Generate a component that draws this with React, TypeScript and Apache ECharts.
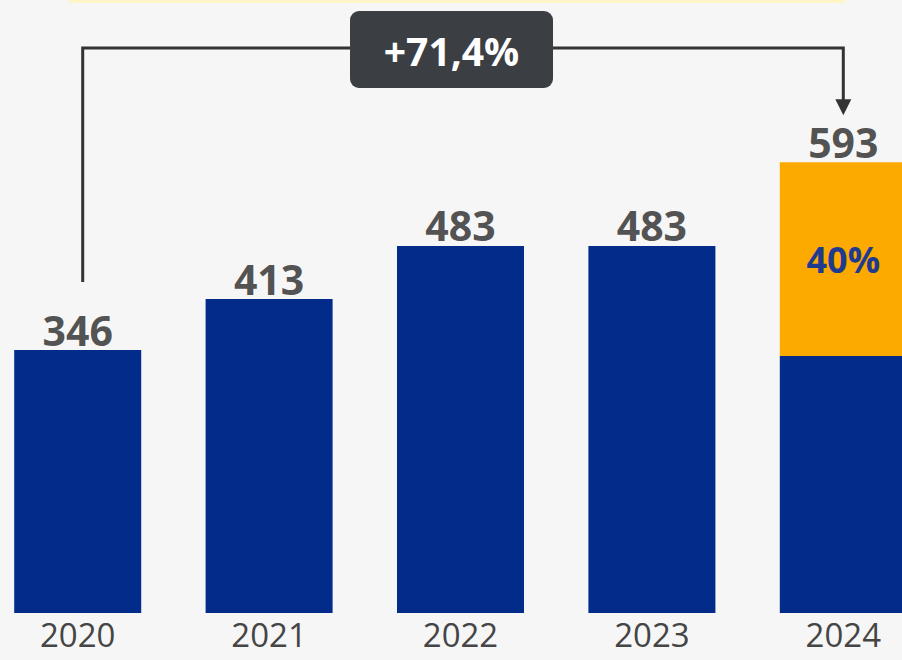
import React, { useEffect, useRef } from "react";
import * as echarts from "echarts";

const years = ["2020", "2021", "2022", "2023", "2024"];
const baseValues = [346, 413, 483, 483, 338];
const highlightValues: (number | string)[] = ["-", "-", "-", "-", 255];
const totals = [346, 413, 483, 483, 593];
const highlightLabel = "40%";
const growthLabel = "+71,4%";

const BLUE = "#022b8a";
const ORANGE = "#fdaa00";
const FONT = "'Open Sans', 'DejaVu Sans', sans-serif";
const OFFSET = 18;

export default function App() {
  const ref = useRef<HTMLDivElement>(null);
  useEffect(() => {
    if (!ref.current) return;
    const chart = echarts.init(ref.current, undefined, { renderer: "svg" });
    chart.setOption({
      animation: false,
      backgroundColor: "#f6f6f6",
      grid: { left: 0, right: 0, top: 81, bottom: 47 },
      xAxis: {
        type: "category",
        data: years,
        axisLine: { show: false },
        axisTick: { show: false },
        axisLabel: {
          color: "#454545",
          fontFamily: FONT,
          fontSize: 33,
          lineHeight: 33,
          margin: 5,
        },
      },
      yAxis: {
        type: "value",
        min: 0,
        max: 700,
        show: false,
        splitLine: { show: false },
      },
      series: [
        {
          type: "bar",
          stack: "t",
          data: baseValues,
          barWidth: 127,
          itemStyle: { color: BLUE },
        },
        {
          type: "bar",
          stack: "t",
          data: highlightValues,
          barWidth: 127,
          itemStyle: { color: ORANGE },
          label: {
            show: true,
            position: "inside",
            formatter: () => highlightLabel,
            color: "#1f3a8f",
            fontFamily: FONT,
            fontWeight: 700,
            fontSize: 36,
          },
        },
        {
          type: "scatter",
          data: totals,
          symbolSize: 0,
          silent: true,
          label: {
            show: true,
            position: "top",
            distance: 0,
            color: "#262626",
            fontFamily: FONT,
            fontWeight: 700,
            fontSize: 41,
          },
        },
      ],
    });

    const p0 = chart.convertToPixel({ xAxisIndex: 0, yAxisIndex: 0 }, [0, totals[0]]) as number[];
    const p4 = chart.convertToPixel({ xAxisIndex: 0, yAxisIndex: 0 }, [4, totals[4]]) as number[];
    const lineY = 48;
    const xL = p0[0] + 5;
    const xR = p4[0];
    const leftBottom = p0[1] - 68;
    const arrowTip = p4[1] - 47;
    const lineStyle = { stroke: "#333333", lineWidth: 3 };
    chart.setOption({
      graphic: [
        { type: "rect", shape: { x: 69 + OFFSET, y: 0, width: 776, height: 3 }, style: { fill: "#fff4c6" }, silent: true },
        { type: "polyline", shape: { points: [[xL, leftBottom], [xL, lineY], [xR, lineY], [xR, arrowTip - 14]] }, style: { ...lineStyle, fill: null }, silent: true },
        { type: "polygon", shape: { points: [[xR - 8, arrowTip - 16], [xR + 8, arrowTip - 16], [xR, arrowTip]] }, style: { fill: "#333333" }, silent: true },
        { type: "rect", shape: { x: 350 + OFFSET, y: 11, width: 203, height: 77, r: 9 }, style: { fill: "#3b3e43" }, silent: true },
        {
          type: "text",
          x: 451.5 + OFFSET,
          y: 50,
          style: {
            text: growthLabel,
            fill: "#ffffff",
            font: `700 39px ${FONT}`,
            align: "center",
            verticalAlign: "middle",
          },
          silent: true,
        },
      ],
    });
    return () => chart.dispose();
  }, []);
  return (
    <div style={{ position: "fixed", left: 0, top: 0, width: 902, height: 660, overflow: "hidden" }}>
      <div
        ref={ref}
        style={{ position: "absolute", left: -OFFSET, top: 0, width: 957, height: 660 }}
      />
    </div>
  );
}
